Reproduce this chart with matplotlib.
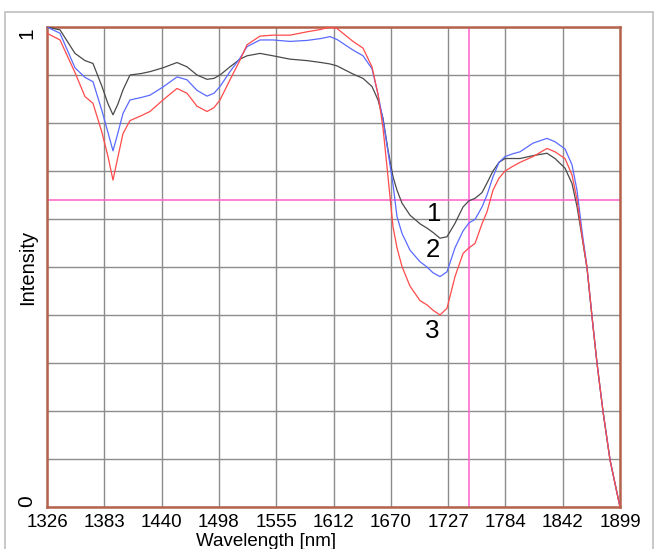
import matplotlib
matplotlib.use("Agg")
import matplotlib.pyplot as plt
import numpy as np
from matplotlib import font_manager
from matplotlib.patches import Rectangle

# wavelength grid (nm) and the three spectra
wavelength = [1326, 1339, 1354, 1364, 1372, 1381, 1387, 1392, 1397, 1402, 1409, 1420,
              1429, 1442, 1456, 1466, 1476, 1486, 1493, 1499, 1509, 1519, 1526, 1539,
              1552, 1569, 1586, 1600, 1609, 1616, 1632, 1642, 1651, 1657, 1662, 1667,
              1672, 1676, 1681, 1689, 1699, 1706, 1712, 1719, 1726, 1734, 1742, 1748,
              1754, 1761, 1766, 1772, 1778, 1784, 1792, 1799, 1812, 1826, 1834, 1844,
              1851, 1856, 1861, 1866, 1871, 1876, 1882, 1889, 1899]

spectrum_1 = [1.000, 0.994, 0.945, 0.930, 0.924, 0.876, 0.840, 0.817, 0.840, 0.869, 0.900, 0.903,
              0.907, 0.915, 0.926, 0.917, 0.900, 0.891, 0.893, 0.900, 0.917, 0.933, 0.940, 0.945,
              0.940, 0.933, 0.930, 0.926, 0.923, 0.919, 0.902, 0.893, 0.876, 0.848, 0.810, 0.744,
              0.688, 0.660, 0.633, 0.608, 0.590, 0.581, 0.572, 0.560, 0.563, 0.591, 0.625, 0.638,
              0.643, 0.655, 0.675, 0.700, 0.718, 0.726, 0.726, 0.726, 0.732, 0.737, 0.726, 0.706,
              0.674, 0.626, 0.563, 0.497, 0.396, 0.299, 0.199, 0.098, 0.000]

spectrum_2 = [1.000, 0.987, 0.915, 0.895, 0.886, 0.825, 0.780, 0.742, 0.780, 0.820, 0.848, 0.853,
              0.858, 0.875, 0.896, 0.890, 0.868, 0.856, 0.862, 0.876, 0.907, 0.935, 0.959, 0.973,
              0.973, 0.970, 0.972, 0.976, 0.980, 0.974, 0.952, 0.940, 0.913, 0.860, 0.806, 0.740,
              0.672, 0.605, 0.570, 0.535, 0.511, 0.500, 0.488, 0.480, 0.490, 0.540, 0.575, 0.592,
              0.599, 0.625, 0.650, 0.688, 0.718, 0.730, 0.736, 0.740, 0.758, 0.768, 0.761, 0.746,
              0.713, 0.660, 0.575, 0.500, 0.398, 0.300, 0.200, 0.099, 0.000]

spectrum_3 = [0.987, 0.973, 0.905, 0.855, 0.841, 0.780, 0.730, 0.681, 0.730, 0.778, 0.805, 0.815,
              0.824, 0.848, 0.872, 0.862, 0.835, 0.824, 0.832, 0.848, 0.890, 0.931, 0.963, 0.981,
              0.983, 0.983, 0.990, 0.995, 1.000, 0.997, 0.970, 0.956, 0.917, 0.860, 0.790, 0.688,
              0.584, 0.540, 0.501, 0.460, 0.430, 0.421, 0.410, 0.400, 0.414, 0.480, 0.528, 0.540,
              0.549, 0.590, 0.615, 0.660, 0.685, 0.700, 0.710, 0.718, 0.730, 0.747, 0.740, 0.726,
              0.692, 0.640, 0.565, 0.500, 0.397, 0.300, 0.199, 0.098, 0.000]

tick_labels = ["1326", "1383", "1440", "1498", "1555", "1612", "1670", "1727", "1784", "1842", "1899"]
curve_names = ["1", "2", "3"]
name_pos = [(1713, 0.611), (1712, 0.535), (1711, 0.367)]
cursor_x = 1748
cursor_y = 0.64


def pick_font(name, fallback):
    try:
        font_manager.findfont(name, fallback_to_default=False)
        return name
    except ValueError:
        return fallback


narrow = pick_font("Liberation Sans Narrow", "Liberation Sans")
regular = "Liberation Sans"
size_scale = 1.0 if narrow != regular else 0.93

fig = plt.figure(figsize=(6.54, 5.49), dpi=100)
ax = fig.add_axes([47 / 654, 1 - 507 / 549, 573 / 654, 480 / 549])

# grey outer frame
fig.add_artist(Rectangle((5.5 / 654, -0.05), 647.5 / 654, 1.05 - 12.3 / 549,
                         transform=fig.transFigure, fill=False, edgecolor="#c4c4c4", lw=1.3))

ax.set_xlim(1326, 1899)
ax.set_ylim(0, 1)
ax.set_xticks(np.linspace(1326, 1899, 11))
ax.set_xticklabels(tick_labels, fontfamily=narrow, fontsize=14.5 * size_scale)
ax.set_yticks(np.linspace(0, 1, 11))
ax.set_yticklabels([])
ax.tick_params(length=0, pad=5)
ax.grid(True, color="#8c8c8c", lw=1.0)
ax.set_axisbelow(True)
for sp in ax.spines.values():
    sp.set_color("#b5624c")
    sp.set_linewidth(1.8)

ax.axhline(cursor_y, color="#ff6ccf", lw=1.2, zorder=1.5)
ax.axvline(cursor_x, color="#ff6ccf", lw=1.2, zorder=1.5)

ax.plot(wavelength, spectrum_1, color="#4a4a4a", lw=0.9, zorder=3)
ax.plot(wavelength, spectrum_2, color="#5a6aff", lw=0.9, zorder=3)
ax.plot(wavelength, spectrum_3, color="#ff4a4a", lw=0.9, zorder=3)

for name, (xx, yy) in zip(curve_names, name_pos):
    ax.text(xx, yy, name, fontfamily=narrow, fontsize=20 * size_scale,
            ha="center", va="center", zorder=4)

ax.text(-0.035, 1.0, "1", transform=ax.transAxes, rotation=90, ha="center", va="top",
        fontfamily=regular, fontsize=15)
ax.text(-0.035, 0.0, "0", transform=ax.transAxes, rotation=90, ha="center", va="bottom",
        fontfamily=regular, fontsize=15)
ax.text(-0.033, 0.5, "Intensity", transform=ax.transAxes, rotation=90, ha="center", va="center",
        fontfamily=regular, fontsize=14.5)

fig.text(266 / 654, 1 - 546 / 549, "Wavelength [nm]", ha="center", va="baseline",
         fontfamily=narrow, fontsize=14.5 * size_scale)

fig.savefig("out.png", dpi=100)
